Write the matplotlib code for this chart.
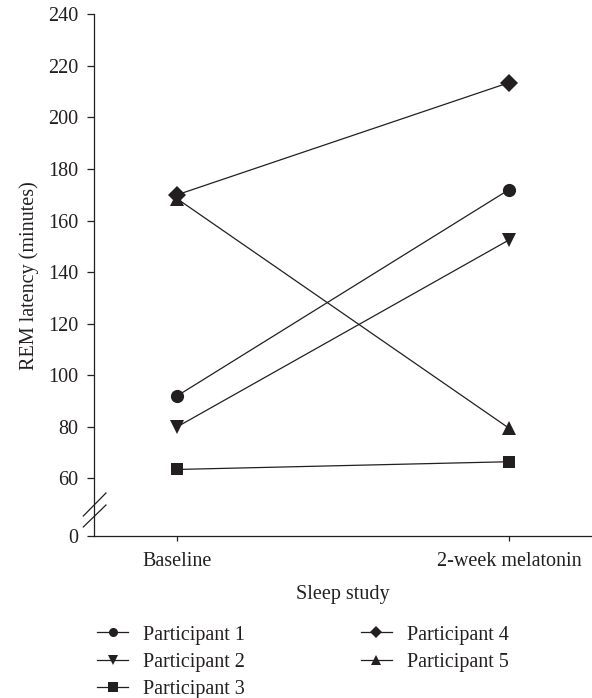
import matplotlib
matplotlib.use('Agg')
import matplotlib.pyplot as plt
from matplotlib.lines import Line2D

# data
conditions = ['Baseline', '2-week melatonin']
participants = ['Participant 1', 'Participant 2', 'Participant 3',
                'Participant 4', 'Participant 5']
p1 = [92, 172]
p2 = [80, 152.5]
p3 = [63.5, 66.5]
p4 = [170, 213.5]
p5 = [168.5, 79.5]
series = [p1, p2, p3, p4, p5]
markers = ['o', 'v', 's', 'D', '^']
y_ticks = [60, 80, 100, 120, 140, 160, 180, 200, 220, 240]

INK = '#231f20'
BREAK_Y = 37.7  # where "0" sits below the axis break
FS = 14.5

plt.rcParams['font.family'] = ['Liberation Serif', 'DejaVu Serif']
plt.rcParams['text.color'] = INK
plt.rcParams['axes.labelcolor'] = INK
plt.rcParams['xtick.color'] = INK
plt.rcParams['ytick.color'] = INK

fig = plt.figure(figsize=(5.92, 6.98), dpi=100)
ax = fig.add_axes([0.1588, 0.2321, 0.8412, 0.7474])

x = list(range(len(conditions)))
sizes = {'o': 9.5, 'v': 9.5, 's': 8.5, 'D': 9.5, '^': 9.5}
for vals, m, name in zip(series, markers, participants):
    ax.plot(x, vals, color=INK, lw=0.9, marker=m, markersize=sizes[m],
            markeredgewidth=0, label=name, clip_on=False, zorder=3)

ax.set_xlim(-0.25, 1.25)
ax.set_ylim(BREAK_Y, 240)
ax.set_xticks(x)
ax.set_xticklabels(conditions, fontsize=FS)
ax.set_yticks([BREAK_Y] + y_ticks)
ax.set_yticklabels(['0'] + [str(t) for t in y_ticks], fontsize=FS)
ax.tick_params(axis='y', direction='out', length=5, width=0.9, pad=6.5)
ax.tick_params(axis='x', direction='out', length=3.5, width=0.9, pad=8)

for side in ('top', 'right'):
    ax.spines[side].set_visible(False)
for side in ('left', 'bottom'):
    ax.spines[side].set_linewidth(0.9)
    ax.spines[side].set_color(INK)

# axis break marks
for y0, y1 in [(0.0383, 0.0824), (0.0173, 0.0594)]:
    ax.plot([-0.0215, 0.024], [y0, y1], transform=ax.transAxes,
            color=INK, lw=0.9, clip_on=False)

ax.set_xlabel('Sleep study', fontsize=FS, labelpad=10)
ax.set_ylabel('REM latency (minutes)', fontsize=FS, labelpad=6.5)

handles = [Line2D([], [], color=INK, lw=0.9, marker=m, markersize=6.5,
                  markeredgewidth=0) for m in markers]
fig.legend(handles, participants, ncol=2, frameon=False, fontsize=FS,
           loc='upper left', bbox_to_anchor=(0.1639, 0.104),
           borderaxespad=0, borderpad=0, handlelength=1.55,
           handletextpad=0.74, columnspacing=5.75, labelspacing=0.41)

fig.savefig('out.png', dpi=100)
